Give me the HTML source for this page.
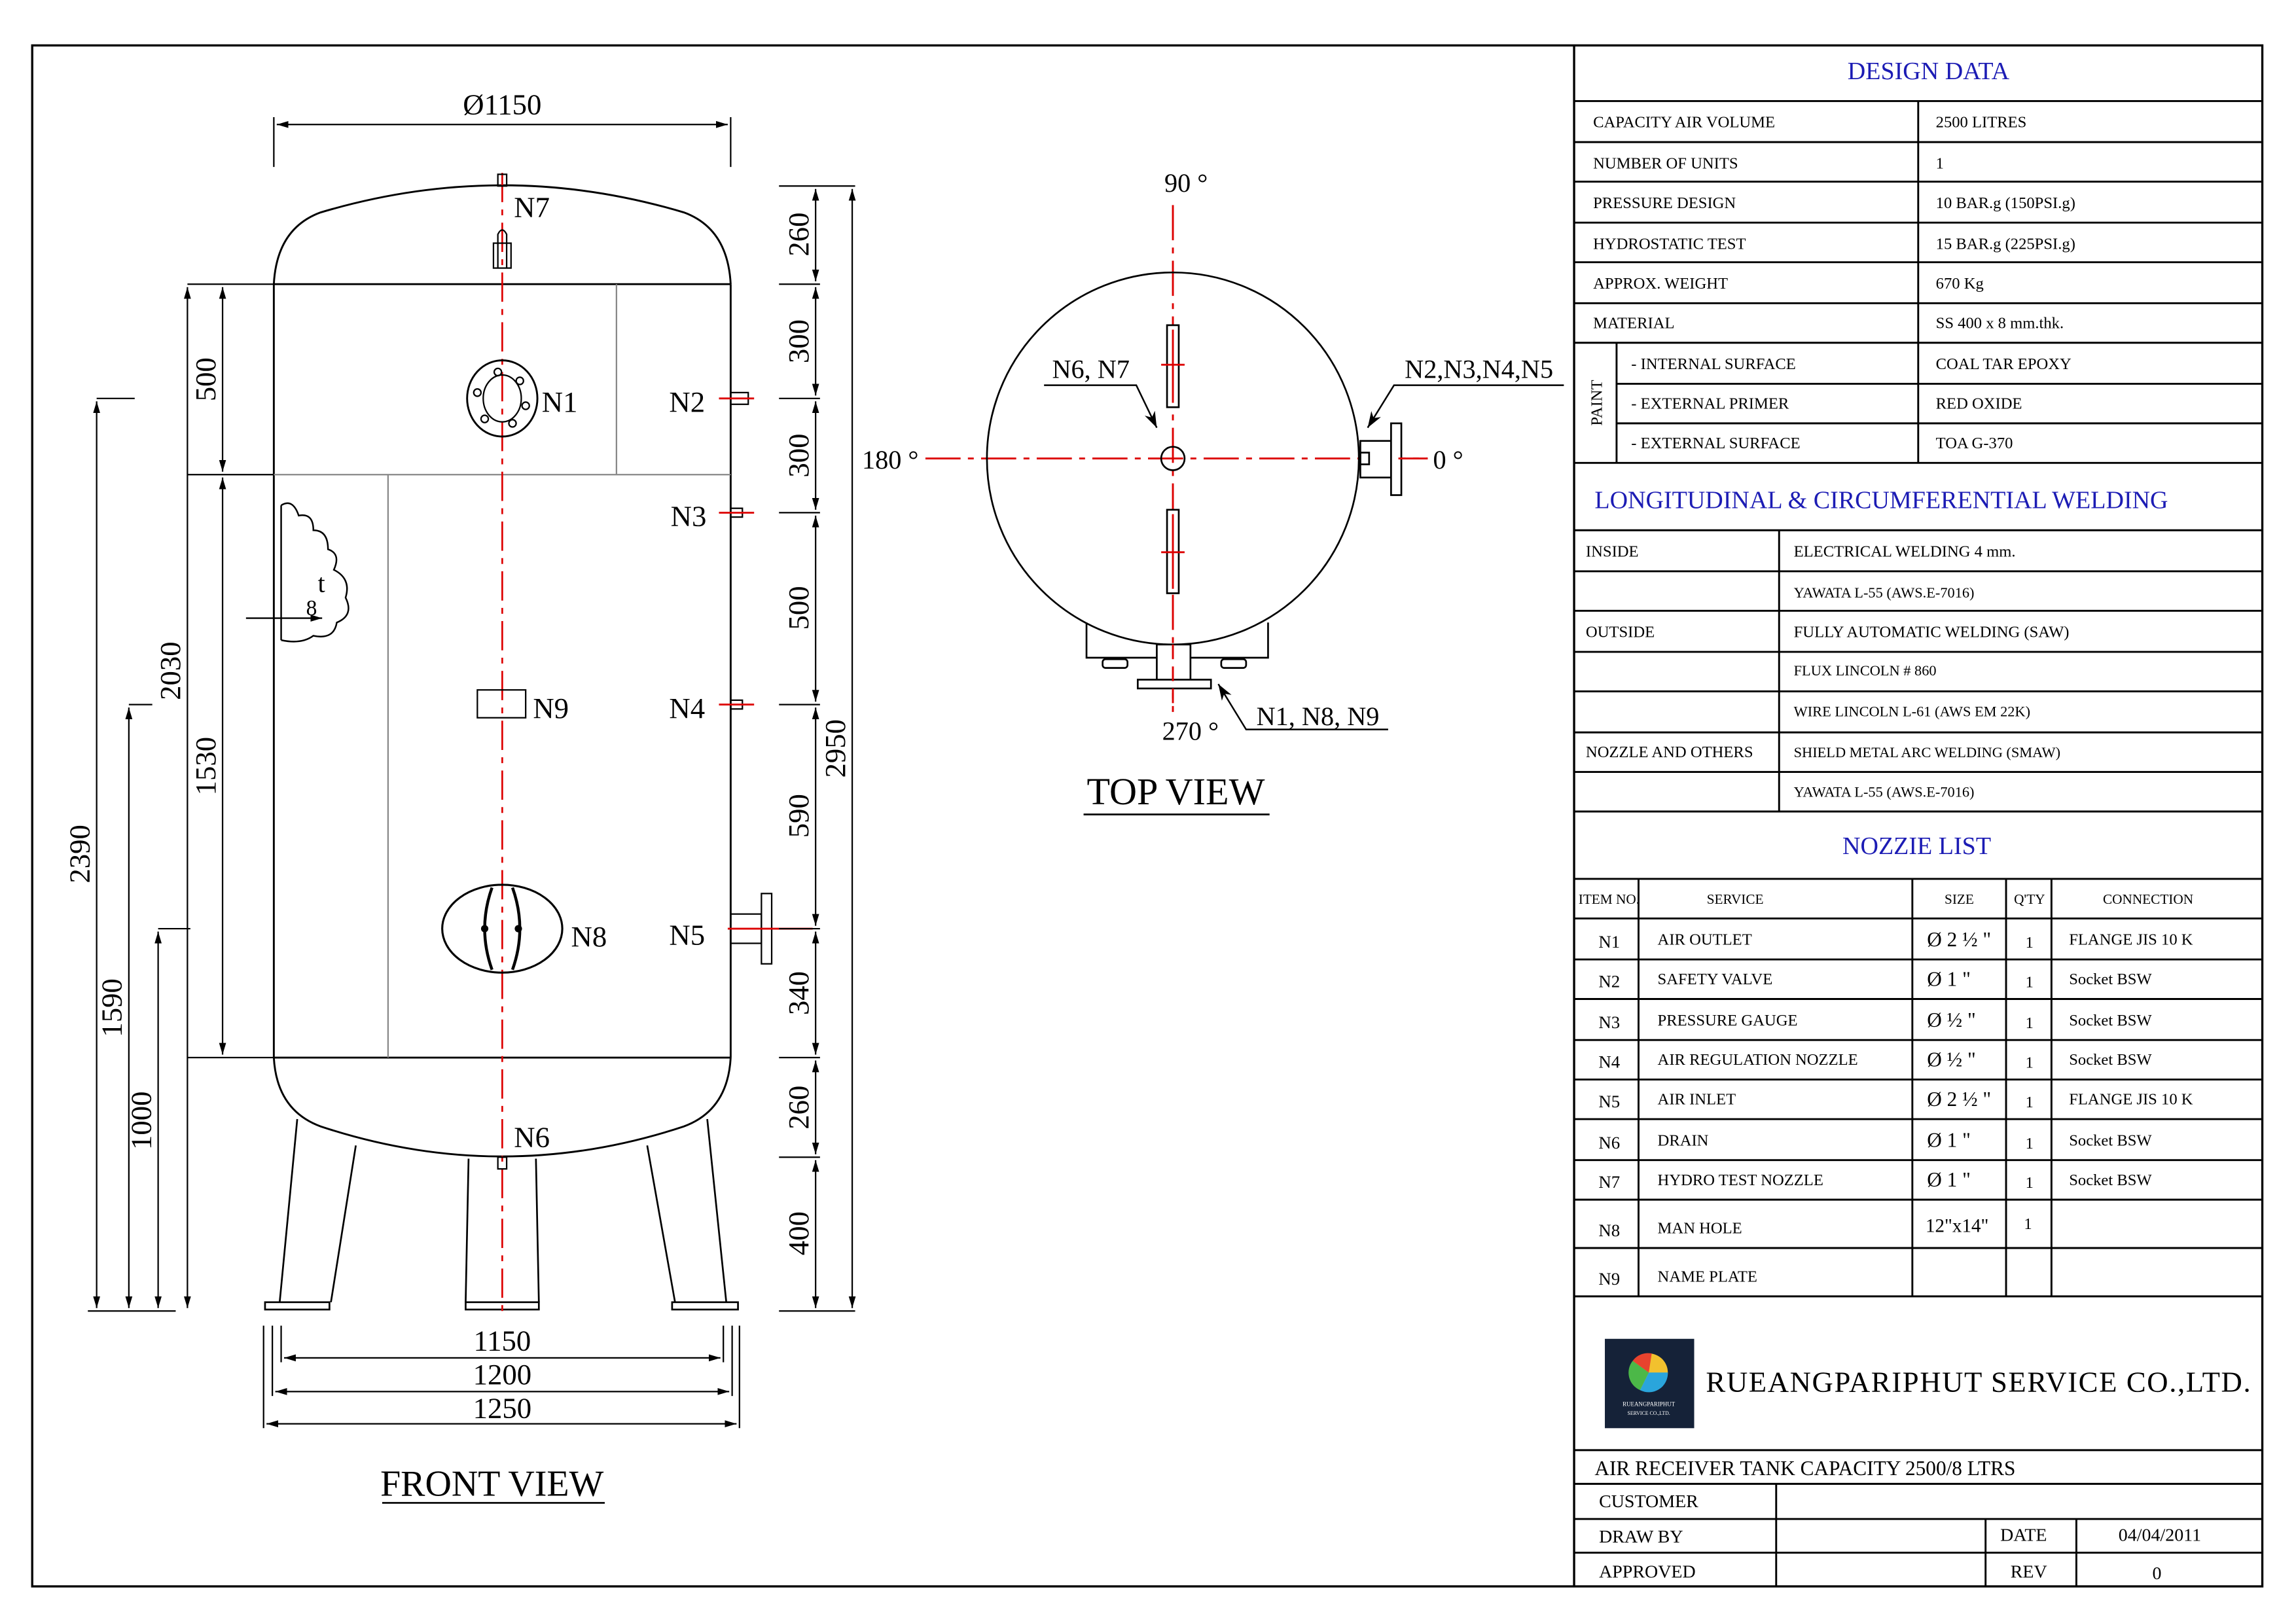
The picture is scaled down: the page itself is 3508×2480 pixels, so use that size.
<!DOCTYPE html>
<html><head><meta charset="utf-8"><style>
html,body{margin:0;padding:0;background:#fff;}
svg{display:block;}
text{font-family:"Liberation Serif",serif;fill:#000;}
.t{font-size:11px;}
.b{font-size:17px;fill:#1c1cb4;}
</style></head><body>
<svg width="3508" height="2480" viewBox="0 0 1568 1108" preserveAspectRatio="none" xmlns="http://www.w3.org/2000/svg">
<defs>
<marker id="a" viewBox="0 0 10 10" refX="10" refY="5" markerWidth="8" markerHeight="8" orient="auto-start-reverse" markerUnits="userSpaceOnUse"><path d="M0,2 L10,5 L0,8z" fill="#000"/></marker>
<marker id="L" viewBox="0 0 10 10" refX="10" refY="5" markerWidth="11" markerHeight="11" orient="auto" markerUnits="userSpaceOnUse"><path d="M0,1.5 L10,5 L0,8.5 L3,5z" fill="#000"/></marker>
</defs>
<rect width="1568" height="1108" fill="#fff"/>
<rect x="22" y="31" width="1523" height="1052" fill="none" stroke="#000" stroke-width="1.5"/>
<line x1="1075" y1="31" x2="1075" y2="1083" stroke="#000" stroke-width="1.5"/>

<!-- ===== FRONT VIEW ===== -->
<g fill="none" stroke="#000" stroke-width="1.3">
<path d="M187,194 Q189,156 219,145 Q343,108 467,145 Q497,156 499,194"/>
<path d="M187,722 Q189,758 219,769 Q343,810 467,769 Q497,758 499,722"/>
<line x1="187" y1="194" x2="187" y2="722"/>
<line x1="499" y1="194" x2="499" y2="722"/>
<line x1="187" y1="194" x2="499" y2="194"/>
<line x1="187" y1="722" x2="499" y2="722"/>
</g>
<g stroke="#888" stroke-width="1">
<line x1="187" y1="324" x2="499" y2="324"/>
<line x1="421" y1="194" x2="421" y2="324"/>
<line x1="265" y1="324" x2="265" y2="722"/>
</g>
<!-- legs -->
<g fill="none" stroke="#000" stroke-width="1.2">
<line x1="203" y1="764" x2="191" y2="889"/><line x1="243" y1="782" x2="226" y2="889"/>
<rect x="181" y="889" width="44" height="5"/>
<line x1="320" y1="791" x2="318" y2="889"/><line x1="366" y1="791" x2="368" y2="889"/>
<rect x="318" y="889" width="50" height="5"/>
<line x1="442" y1="782" x2="461" y2="889"/><line x1="483" y1="764" x2="496" y2="889"/>
<rect x="459" y="889" width="45" height="5"/>
</g>
<!-- centerline -->
<line x1="343" y1="118" x2="343" y2="897" stroke="#d00" stroke-width="1.2" stroke-dasharray="20,5,4,5"/>
<!-- N7 -->
<g fill="none" stroke="#000" stroke-width="1">
<rect x="340" y="119" width="6" height="8"/>
<path d="M340,183 V160 Q343,154 346,160 V183"/>
<rect x="337" y="166" width="12" height="17"/>
<!-- N1 -->
<ellipse cx="343" cy="272" rx="24" ry="26" stroke-width="1.3"/>
<ellipse cx="343" cy="272" rx="13" ry="16"/>
<circle cx="340" cy="254" r="2.5"/><circle cx="355" cy="260" r="2.5"/><circle cx="359" cy="277" r="2.5"/>
<circle cx="350" cy="289" r="2.5"/><circle cx="331" cy="286" r="2.5"/><circle cx="326" cy="268" r="2.5"/>
<!-- N2 N3 N4 -->
<rect x="499" y="268" width="12" height="8"/>
<rect x="499" y="347" width="8" height="6"/>
<rect x="499" y="478" width="8" height="6"/>
<!-- N5 -->
<rect x="499" y="624" width="21" height="20"/>
<rect x="520" y="610" width="7" height="48"/>
<!-- N9 -->
<rect x="326" y="471" width="33" height="19"/>
<!-- N8 -->
<ellipse cx="343" cy="634" rx="41" ry="30" stroke-width="1.4"/>
<path d="M336,606 Q326,634 336,662 M350,606 Q360,634 350,662" stroke-width="2"/>
<!-- N6 -->
<rect x="340" y="790" width="6" height="8"/>
</g>
<circle cx="331" cy="634" r="2.5" fill="#000"/><circle cx="354" cy="634" r="2.5" fill="#000"/>
<g stroke="#d00" stroke-width="1.3">
<line x1="491" y1="272" x2="515" y2="272"/><line x1="491" y1="350" x2="515" y2="350"/>
<line x1="491" y1="481" x2="515" y2="481"/><line x1="497" y1="634" x2="555" y2="634"/>
</g>
<g font-size="20">
<text x="351" y="148">N7</text><text x="370" y="281">N1</text><text x="457" y="281">N2</text>
<text x="458" y="359">N3</text><text x="457" y="490">N4</text><text x="364" y="490">N9</text>
<text x="390" y="646">N8</text><text x="457" y="645">N5</text><text x="351" y="783">N6</text>
</g>
<!-- weld detail cloud -->
<g fill="none" stroke="#000" stroke-width="1.1">
<path d="M192,345 V437 M192,345 Q200,340 204,352 Q214,350 214,362 Q224,362 224,375 Q233,378 228,389 Q240,395 236,408 Q242,420 230,425 Q228,437 214,434 Q206,440 192,437"/>
<line x1="168" y1="422" x2="220" y2="422" marker-end="url(#a)"/>
</g>
<text x="217" y="404" font-size="18">t</text><text x="209" y="420" font-size="15">8</text>

<!-- Top dimension -->
<g stroke="#000" stroke-width="1">
<line x1="187" y1="80" x2="187" y2="114"/><line x1="499" y1="80" x2="499" y2="114"/>
<line x1="189" y1="85" x2="497" y2="85" marker-start="url(#a)" marker-end="url(#a)"/>
</g>
<text x="343" y="78" font-size="20" text-anchor="middle">Ø1150</text>

<!-- Left dimensions -->
<g stroke="#000" stroke-width="1">
<line x1="128" y1="194" x2="187" y2="194"/><line x1="128" y1="324" x2="187" y2="324"/><line x1="128" y1="722" x2="187" y2="722"/>
<line x1="152" y1="196" x2="152" y2="322" marker-start="url(#a)" marker-end="url(#a)"/>
<line x1="152" y1="326" x2="152" y2="720" marker-start="url(#a)" marker-end="url(#a)"/>
<line x1="128" y1="196" x2="128" y2="893" marker-start="url(#a)" marker-end="url(#a)"/>
<line x1="66" y1="272" x2="92" y2="272"/>
<line x1="66" y1="274" x2="66" y2="893" marker-start="url(#a)" marker-end="url(#a)"/>
<line x1="88" y1="481" x2="104" y2="481"/>
<line x1="88" y1="483" x2="88" y2="893" marker-start="url(#a)" marker-end="url(#a)"/>
<line x1="108" y1="634" x2="130" y2="634"/>
<line x1="108" y1="636" x2="108" y2="893" marker-start="url(#a)" marker-end="url(#a)"/>
<line x1="60" y1="895" x2="120" y2="895"/>
</g>
<g font-size="20">
<text transform="translate(147,259) rotate(-90)" text-anchor="middle">500</text>
<text transform="translate(147,523) rotate(-90)" text-anchor="middle">1530</text>
<text transform="translate(123,458) rotate(-90)" text-anchor="middle">2030</text>
<text transform="translate(61,583) rotate(-90)" text-anchor="middle">2390</text>
<text transform="translate(83,688) rotate(-90)" text-anchor="middle">1590</text>
<text transform="translate(103,765) rotate(-90)" text-anchor="middle">1000</text>
</g>

<!-- Right dimensions -->
<g stroke="#000" stroke-width="1">
<line x1="532" y1="127" x2="584" y2="127"/>
<line x1="532" y1="194" x2="560" y2="194"/><line x1="532" y1="272" x2="560" y2="272"/>
<line x1="532" y1="350" x2="560" y2="350"/><line x1="532" y1="481" x2="560" y2="481"/>
<line x1="532" y1="634" x2="560" y2="634"/><line x1="532" y1="722" x2="560" y2="722"/>
<line x1="532" y1="790" x2="560" y2="790"/><line x1="532" y1="895" x2="584" y2="895"/>
<line x1="557" y1="129" x2="557" y2="192" marker-start="url(#a)" marker-end="url(#a)"/>
<line x1="557" y1="196" x2="557" y2="270" marker-start="url(#a)" marker-end="url(#a)"/>
<line x1="557" y1="274" x2="557" y2="348" marker-start="url(#a)" marker-end="url(#a)"/>
<line x1="557" y1="352" x2="557" y2="479" marker-start="url(#a)" marker-end="url(#a)"/>
<line x1="557" y1="483" x2="557" y2="632" marker-start="url(#a)" marker-end="url(#a)"/>
<line x1="557" y1="636" x2="557" y2="720" marker-start="url(#a)" marker-end="url(#a)"/>
<line x1="557" y1="724" x2="557" y2="788" marker-start="url(#a)" marker-end="url(#a)"/>
<line x1="557" y1="792" x2="557" y2="893" marker-start="url(#a)" marker-end="url(#a)"/>
<line x1="582" y1="129" x2="582" y2="893" marker-start="url(#a)" marker-end="url(#a)"/>
</g>
<g font-size="20">
<text transform="translate(552,160) rotate(-90)" text-anchor="middle">260</text>
<text transform="translate(552,233) rotate(-90)" text-anchor="middle">300</text>
<text transform="translate(552,311) rotate(-90)" text-anchor="middle">300</text>
<text transform="translate(552,415) rotate(-90)" text-anchor="middle">500</text>
<text transform="translate(552,557) rotate(-90)" text-anchor="middle">590</text>
<text transform="translate(552,678) rotate(-90)" text-anchor="middle">340</text>
<text transform="translate(552,756) rotate(-90)" text-anchor="middle">260</text>
<text transform="translate(552,842) rotate(-90)" text-anchor="middle">400</text>
<text transform="translate(577,511) rotate(-90)" text-anchor="middle">2950</text>
</g>

<!-- Bottom dimensions -->
<g stroke="#000" stroke-width="1">
<line x1="180" y1="905" x2="180" y2="975"/><line x1="186" y1="905" x2="186" y2="953"/><line x1="192" y1="905" x2="192" y2="930"/>
<line x1="505" y1="905" x2="505" y2="975"/><line x1="500" y1="905" x2="500" y2="953"/><line x1="494" y1="905" x2="494" y2="930"/>
<line x1="194" y1="927" x2="492" y2="927" marker-start="url(#a)" marker-end="url(#a)"/>
<line x1="188" y1="950" x2="498" y2="950" marker-start="url(#a)" marker-end="url(#a)"/>
<line x1="182" y1="972" x2="503" y2="972" marker-start="url(#a)" marker-end="url(#a)"/>
</g>
<g font-size="20" text-anchor="middle">
<text x="343" y="922">1150</text><text x="343" y="945">1200</text><text x="343" y="968">1250</text>
</g>
<text x="336" y="1021" font-size="25" text-anchor="middle">FRONT VIEW</text>
<line x1="261" y1="1026" x2="413" y2="1026" stroke="#000" stroke-width="1.2"/>

<!-- ===== TOP VIEW ===== -->
<g stroke="#d00" stroke-width="1.3" stroke-dasharray="24,5,4,5">
<line x1="632" y1="313" x2="975" y2="313"/>
<line x1="801" y1="140" x2="801" y2="486"/>
</g>
<g fill="none" stroke="#000" stroke-width="1.2">
<path d="M742,425 V449 H866 V425"/>
<circle cx="801" cy="313" r="127" fill="none"/>
<rect x="790" y="440" width="23" height="25" fill="#fff"/>
<rect x="777" y="464" width="50" height="6" fill="#fff"/>
<rect x="753" y="450" width="17" height="6" rx="2"/>
<rect x="834" y="450" width="17" height="6" rx="2"/>
<circle cx="801" cy="313" r="8"/>
<rect x="929" y="301" width="21" height="25" fill="#fff"/>
<rect x="950" y="289" width="7" height="49" fill="#fff"/>
<rect x="929" y="309" width="6" height="8"/>
<rect x="797" y="222" width="8" height="56" fill="#fff"/>
<rect x="797" y="348" width="8" height="57" fill="#fff"/>
</g>
<g stroke="#d00" stroke-width="1.3">
<line x1="801" y1="440" x2="801" y2="486" stroke-dasharray="10,5"/>
<line x1="801" y1="225" x2="801" y2="275"/><line x1="801" y1="351" x2="801" y2="402"/>
<line x1="793" y1="249" x2="809" y2="249"/><line x1="793" y1="377" x2="809" y2="377"/>
<line x1="955" y1="313" x2="975" y2="313"/>
</g>
<g font-size="18">
<text x="810" y="131" text-anchor="middle">90 °</text>
<text x="608" y="320" text-anchor="middle">180 °</text>
<text x="989" y="320" text-anchor="middle">0 °</text>
<text x="813" y="505" text-anchor="middle">270 °</text>
<text x="745" y="258" text-anchor="middle">N6, N7</text>
<text x="1010" y="258" text-anchor="middle">N2,N3,N4,N5</text>
<text x="900" y="495" text-anchor="middle">N1, N8, N9</text>
</g>
<g fill="none" stroke="#000" stroke-width="1.1">
<polyline points="713,263 776,263 790,292" marker-end="url(#L)"/>
<polyline points="1068,263 952,263 934,292" marker-end="url(#L)"/>
<polyline points="948,498 851,498 832,467" marker-end="url(#L)"/>
</g>
<text x="803" y="549" font-size="26" text-anchor="middle">TOP VIEW</text>
<line x1="740" y1="556" x2="867" y2="556" stroke="#000" stroke-width="1.2"/>

<!-- ===== RIGHT PANEL ===== -->
<g stroke="#000" stroke-width="1.3">
<line x1="1075" y1="69" x2="1545" y2="69"/>
<line x1="1075" y1="97" x2="1545" y2="97"/><line x1="1075" y1="124" x2="1545" y2="124"/>
<line x1="1075" y1="152" x2="1545" y2="152"/><line x1="1075" y1="179" x2="1545" y2="179"/>
<line x1="1075" y1="207" x2="1545" y2="207"/><line x1="1075" y1="234" x2="1545" y2="234"/>
<line x1="1104" y1="262" x2="1545" y2="262"/><line x1="1104" y1="289" x2="1545" y2="289"/>
<line x1="1075" y1="316" x2="1545" y2="316"/>
<line x1="1310" y1="69" x2="1310" y2="316"/>
<line x1="1104" y1="234" x2="1104" y2="316"/>
<line x1="1075" y1="362" x2="1545" y2="362"/>
<line x1="1075" y1="390" x2="1545" y2="390"/><line x1="1075" y1="417" x2="1545" y2="417"/>
<line x1="1075" y1="445" x2="1545" y2="445"/><line x1="1075" y1="472" x2="1545" y2="472"/>
<line x1="1075" y1="500" x2="1545" y2="500"/><line x1="1075" y1="527" x2="1545" y2="527"/>
<line x1="1075" y1="554" x2="1545" y2="554"/>
<line x1="1215" y1="362" x2="1215" y2="554"/>
<line x1="1075" y1="600" x2="1545" y2="600"/><line x1="1075" y1="627" x2="1545" y2="627"/>
<line x1="1075" y1="655" x2="1545" y2="655"/><line x1="1075" y1="682" x2="1545" y2="682"/>
<line x1="1075" y1="710" x2="1545" y2="710"/><line x1="1075" y1="737" x2="1545" y2="737"/>
<line x1="1075" y1="764" x2="1545" y2="764"/><line x1="1075" y1="792" x2="1545" y2="792"/>
<line x1="1075" y1="819" x2="1545" y2="819"/><line x1="1075" y1="852" x2="1545" y2="852"/>
<line x1="1075" y1="885" x2="1545" y2="885"/>
<line x1="1119" y1="600" x2="1119" y2="885"/><line x1="1306" y1="600" x2="1306" y2="885"/>
<line x1="1370" y1="600" x2="1370" y2="885"/><line x1="1401" y1="600" x2="1401" y2="885"/>
<line x1="1075" y1="990" x2="1545" y2="990"/><line x1="1075" y1="1013" x2="1545" y2="1013"/>
<line x1="1075" y1="1037" x2="1545" y2="1037"/><line x1="1075" y1="1060" x2="1545" y2="1060"/>
<line x1="1213" y1="1013" x2="1213" y2="1083"/>
<line x1="1356" y1="1037" x2="1356" y2="1083"/><line x1="1418" y1="1037" x2="1418" y2="1083"/>
</g>
<text x="1317" y="54" class="b" text-anchor="middle">DESIGN DATA</text>
<g class="t">
<text x="1088" y="87">CAPACITY  AIR  VOLUME</text><text x="1322" y="87">2500  LITRES</text>
<text x="1088" y="115">NUMBER OF UNITS</text><text x="1322" y="115">1</text>
<text x="1088" y="142">PRESSURE  DESIGN</text><text x="1322" y="142">10   BAR.g   (150PSI.g)</text>
<text x="1088" y="170">HYDROSTATIC  TEST</text><text x="1322" y="170">15   BAR.g   (225PSI.g)</text>
<text x="1088" y="197">APPROX. WEIGHT</text><text x="1322" y="197">670  Kg</text>
<text x="1088" y="224">MATERIAL</text><text x="1322" y="224">SS 400 x 8  mm.thk.</text>
<text x="1114" y="252">- INTERNAL  SURFACE</text><text x="1322" y="252">COAL TAR EPOXY</text>
<text x="1114" y="279">- EXTERNAL  PRIMER</text><text x="1322" y="279">RED  OXIDE</text>
<text x="1114" y="306">- EXTERNAL  SURFACE</text><text x="1322" y="306">TOA G-370</text>
<text transform="translate(1094,275) rotate(-90)" text-anchor="middle">PAINT</text>
</g>
<text x="1089" y="347" class="b">LONGITUDINAL &amp; CIRCUMFERENTIAL WELDING</text>
<g class="t">
<text x="1083" y="380">INSIDE</text><text x="1225" y="380">ELECTRICAL WELDING 4 mm.</text>
<text x="1225" y="408" font-size="10">YAWATA L-55 (AWS.E-7016)</text>
<text x="1083" y="435">OUTSIDE</text><text x="1225" y="435">FULLY AUTOMATIC WELDING (SAW)</text>
<text x="1225" y="461" font-size="10">FLUX LINCOLN # 860</text>
<text x="1225" y="489" font-size="10">WIRE LINCOLN L-61 (AWS EM 22K)</text>
<text x="1083" y="517">NOZZLE AND OTHERS</text><text x="1225" y="517" font-size="10">SHIELD METAL ARC WELDING (SMAW)</text>
<text x="1225" y="544" font-size="10">YAWATA L-55 (AWS.E-7016)</text>
</g>
<text x="1309" y="583" class="b" text-anchor="middle">NOZZIE  LIST</text>
<g font-size="9.5">
<text x="1078" y="617">ITEM NO.</text><text x="1185" y="617" text-anchor="middle">SERVICE</text>
<text x="1338" y="617" text-anchor="middle">SIZE</text><text x="1386" y="617" text-anchor="middle">Q'TY</text>
<text x="1467" y="617" text-anchor="middle">CONNECTION</text>
</g>
<g class="t">
<text x="1099" y="647" font-size="12" text-anchor="middle">N1</text><text x="1132" y="645">AIR OUTLET</text><text x="1316" y="646" font-size="14">Ø 2 ½ "</text><text x="1386" y="647" text-anchor="middle">1</text><text x="1413" y="645">FLANGE  JIS 10 K</text>
<text x="1099" y="674" font-size="12" text-anchor="middle">N2</text><text x="1132" y="672">SAFETY  VALVE</text><text x="1316" y="673" font-size="14">Ø 1 "</text><text x="1386" y="674" text-anchor="middle">1</text><text x="1413" y="672">Socket  BSW</text>
<text x="1099" y="702" font-size="12" text-anchor="middle">N3</text><text x="1132" y="700">PRESSURE  GAUGE</text><text x="1316" y="701" font-size="14">Ø ½ "</text><text x="1386" y="702" text-anchor="middle">1</text><text x="1413" y="700">Socket  BSW</text>
<text x="1099" y="729" font-size="12" text-anchor="middle">N4</text><text x="1132" y="727">AIR  REGULATION NOZZLE</text><text x="1316" y="728" font-size="14">Ø ½ "</text><text x="1386" y="729" text-anchor="middle">1</text><text x="1413" y="727">Socket  BSW</text>
<text x="1099" y="756" font-size="12" text-anchor="middle">N5</text><text x="1132" y="754">AIR INLET</text><text x="1316" y="755" font-size="14">Ø 2 ½ "</text><text x="1386" y="756" text-anchor="middle">1</text><text x="1413" y="754">FLANGE  JIS 10 K</text>
<text x="1099" y="784" font-size="12" text-anchor="middle">N6</text><text x="1132" y="782">DRAIN</text><text x="1316" y="783" font-size="14">Ø 1 "</text><text x="1386" y="784" text-anchor="middle">1</text><text x="1413" y="782">Socket  BSW</text>
<text x="1099" y="811" font-size="12" text-anchor="middle">N7</text><text x="1132" y="809">HYDRO TEST NOZZLE</text><text x="1316" y="810" font-size="14">Ø 1 "</text><text x="1386" y="811" text-anchor="middle">1</text><text x="1413" y="809">Socket  BSW</text>
<text x="1099" y="844" font-size="12" text-anchor="middle">N8</text><text x="1132" y="842">MAN  HOLE</text><text x="1315" y="841" font-size="13">12"x14"</text><text x="1385" y="839" text-anchor="middle">1</text>
<text x="1099" y="877" font-size="12" text-anchor="middle">N9</text><text x="1132" y="875">NAME  PLATE</text>
</g>
<!-- logo -->
<rect x="1096" y="914" width="61" height="61" fill="#152238"/>
<circle cx="1126" cy="937" r="13" fill="#f2c12e"/>
<path d="M1126,937 L1139,937 A13,13 0 0 1 1120,949 Z" fill="#2aa5dc"/>
<path d="M1126,937 L1120,949 A13,13 0 0 1 1115,929 Z" fill="#4cb848"/>
<path d="M1126,937 L1115,929 A13,13 0 0 1 1128,924 Z" fill="#e8432e"/>
<text x="1126" y="960" font-size="4" style="fill:#fff" text-anchor="middle">RUEANGPARIPHUT</text>
<text x="1126" y="966" font-size="3.5" style="fill:#fff" text-anchor="middle">SERVICE CO.,LTD.</text>
<text x="1165" y="950" font-size="20" textLength="372" lengthAdjust="spacing">RUEANGPARIPHUT SERVICE CO.,LTD.</text>
<text x="1089" y="1007" font-size="14">AIR RECEIVER TANK CAPACITY 2500/8  LTRS</text>
<g font-size="12.5">
<text x="1092" y="1029">CUSTOMER</text>
<text x="1092" y="1053">DRAW BY</text><text x="1366" y="1052">DATE</text><text x="1475" y="1052" text-anchor="middle">04/04/2011</text>
<text x="1092" y="1077">APPROVED</text><text x="1373" y="1077">REV</text><text x="1473" y="1078" text-anchor="middle">0</text>
</g>
</svg>
</body></html>
